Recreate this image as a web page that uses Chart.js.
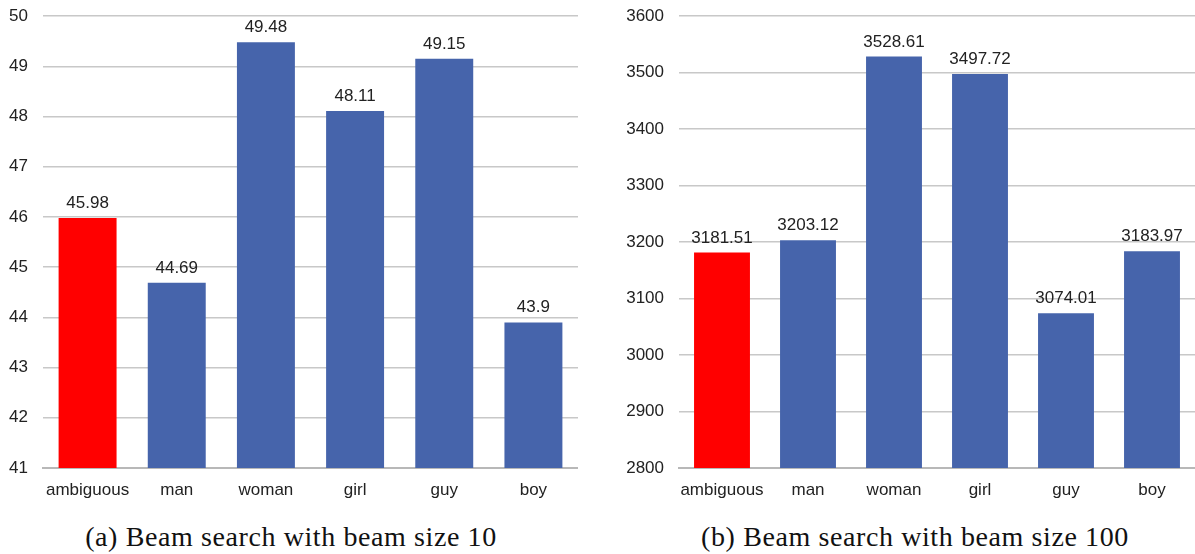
<!DOCTYPE html>
<html>
<head>
<meta charset="utf-8">
<script src="https://cdn.jsdelivr.net/npm/chart.js@4"></script>
<style>
  body { margin: 0; background: #fff; width: 1195px; height: 554px; position: relative; overflow: hidden; }
  .box { position: absolute; top: -9px; height: 514px; }
  .caption { position: absolute; top: 521px; font-family: "Liberation Serif", "DejaVu Serif", serif; font-size: 28px; letter-spacing: 0.6px; color: #111; text-align: center; white-space: nowrap; }
</style>
</head>
<body>
<div class="box" style="left:0; width:578px;"><canvas id="beam10"></canvas></div>
<div class="box" style="left:600px; width:595px;"><canvas id="beam100"></canvas></div>
<div class="caption" style="left:0; width:582px;">(a) Beam search with beam size 10</div>
<div class="caption" style="left:620px; width:590px;">(b) Beam search with beam size 100</div>
<script>
// Chart data
const categories = ['ambiguous', 'man', 'woman', 'girl', 'guy', 'boy'];
const beam10Values = [45.98, 44.69, 49.48, 48.11, 49.15, 43.9];
const beam100Values = [3181.51, 3203.12, 3528.61, 3497.72, 3074.01, 3183.97];
const beam10Range = [41, 50, 1];
const beam100Range = [2800, 3600, 100];

const barColors = ['#ff0000', '#4664ab', '#4664ab', '#4664ab', '#4664ab', '#4664ab'];
const fontFamily = '"Liberation Sans", Arial, sans-serif';

// Draws the value above each bar
const valueLabels = {
    id: 'valueLabels',
    afterDatasetsDraw(chart) {
        const ctx = chart.ctx;
        const meta = chart.getDatasetMeta(0);
        ctx.save();
        ctx.font = '17px ' + fontFamily;
        ctx.fillStyle = '#222';
        ctx.textAlign = 'center';
        ctx.textBaseline = 'alphabetic';
        meta.data.forEach((bar, i) => {
            ctx.fillText(String(chart.data.datasets[0].data[i]), bar.x, bar.y - 10);
        });
        ctx.restore();
    }
};

function makeChart(id, values, range, axisWidth) {
    new Chart(document.getElementById(id), {
        type: 'bar',
        data: {
            labels: categories,
            datasets: [{
                data: values,
                backgroundColor: barColors,
                barPercentage: 0.65,
                categoryPercentage: 1
            }]
        },
        options: {
            responsive: true,
            maintainAspectRatio: false,
            animation: false,
            layout: { padding: { top: 11, right: 0, left: 0, bottom: 0 } },
            plugins: {
                legend: { display: false },
                tooltip: { enabled: false }
            },
            scales: {
                x: {
                    grid: { display: false, drawTicks: false },
                    border: { color: '#b8b8b8', width: 2 },
                    ticks: {
                        color: '#222',
                        padding: 12,
                        maxRotation: 0,
                        minRotation: 0,
                        autoSkip: false,
                        font: { family: fontFamily, size: 17 }
                    },
                    afterFit(scale) { scale.height = 37; }
                },
                y: {
                    min: range[0],
                    max: range[1],
                    grid: { color: '#c8c8c8', lineWidth: 1.5, drawTicks: false },
                    border: { display: false },
                    ticks: {
                        stepSize: range[2],
                        color: '#222',
                        padding: 15,
                        font: { family: fontFamily, size: 17 },
                        callback: value => String(value)
                    },
                    afterFit(scale) { scale.width = axisWidth; }
                }
            }
        },
        plugins: [valueLabels]
    });
}

makeChart('beam10', beam10Values, beam10Range, 43);
makeChart('beam100', beam100Values, beam100Range, 79);
</script>
</body>
</html>
